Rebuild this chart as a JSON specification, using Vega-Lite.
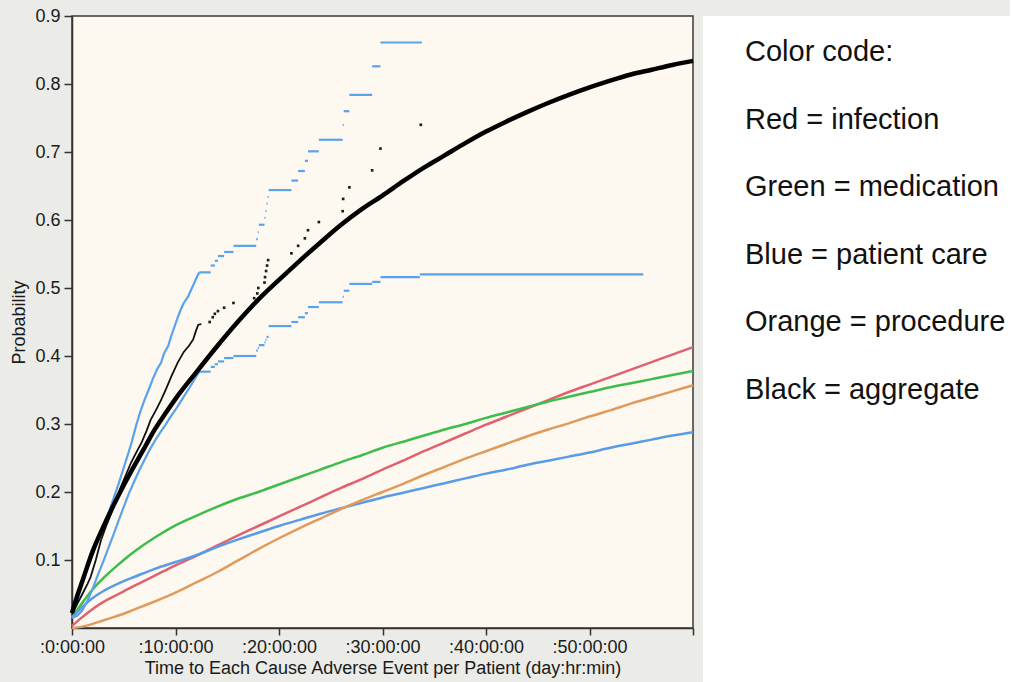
{
  "$schema": "https://vega.github.io/schema/vega-lite/v6.json",
  "background": "#ebebe8",
  "padding": {"left": 10, "top": 6, "right": 0, "bottom": 0},
  "spacing": 0,
  "config": {
    "font": "Liberation Sans",
    "view": {"stroke": null},
    "axis": {
      "grid": false,
      "labelFont": "Liberation Sans",
      "titleFont": "Liberation Sans",
      "labelFontSize": 18,
      "titleFontSize": 18,
      "titleFontWeight": "normal",
      "labelColor": "#1a1a1a",
      "titleColor": "#1a1a1a",
      "domainColor": "#333333",
      "domainWidth": 1.5,
      "tickColor": "#333333",
      "tickWidth": 1.5
    }
  },
  "datasets": {
    "curves": [
      {"series": "aggregate", "t": 0, "p": 0.022}, {"series": "aggregate", "t": 0.5, "p": 0.047}, {"series": "aggregate", "t": 1, "p": 0.069},
      {"series": "aggregate", "t": 2, "p": 0.113}, {"series": "aggregate", "t": 3, "p": 0.148}, {"series": "aggregate", "t": 4, "p": 0.18},
      {"series": "aggregate", "t": 5, "p": 0.21}, {"series": "aggregate", "t": 6, "p": 0.238}, {"series": "aggregate", "t": 7, "p": 0.265},
      {"series": "aggregate", "t": 8, "p": 0.292}, {"series": "aggregate", "t": 9, "p": 0.315}, {"series": "aggregate", "t": 10, "p": 0.337},
      {"series": "aggregate", "t": 12, "p": 0.376}, {"series": "aggregate", "t": 14, "p": 0.414}, {"series": "aggregate", "t": 16, "p": 0.45},
      {"series": "aggregate", "t": 18, "p": 0.483}, {"series": "aggregate", "t": 20, "p": 0.512}, {"series": "aggregate", "t": 22, "p": 0.54},
      {"series": "aggregate", "t": 24, "p": 0.567}, {"series": "aggregate", "t": 26, "p": 0.593}, {"series": "aggregate", "t": 28, "p": 0.616},
      {"series": "aggregate", "t": 30, "p": 0.636}, {"series": "aggregate", "t": 32, "p": 0.657}, {"series": "aggregate", "t": 34, "p": 0.677},
      {"series": "aggregate", "t": 36, "p": 0.695}, {"series": "aggregate", "t": 38, "p": 0.713}, {"series": "aggregate", "t": 40, "p": 0.73},
      {"series": "aggregate", "t": 42, "p": 0.745}, {"series": "aggregate", "t": 44, "p": 0.759}, {"series": "aggregate", "t": 46, "p": 0.772},
      {"series": "aggregate", "t": 48, "p": 0.784}, {"series": "aggregate", "t": 50, "p": 0.795}, {"series": "aggregate", "t": 52, "p": 0.805},
      {"series": "aggregate", "t": 54, "p": 0.814}, {"series": "aggregate", "t": 56, "p": 0.821}, {"series": "aggregate", "t": 58, "p": 0.828},
      {"series": "aggregate", "t": 60, "p": 0.834},

      {"series": "infection", "t": 0, "p": 0.003}, {"series": "infection", "t": 1, "p": 0.016}, {"series": "infection", "t": 2, "p": 0.028},
      {"series": "infection", "t": 3, "p": 0.038}, {"series": "infection", "t": 4, "p": 0.046}, {"series": "infection", "t": 5, "p": 0.054},
      {"series": "infection", "t": 6, "p": 0.062}, {"series": "infection", "t": 8, "p": 0.077}, {"series": "infection", "t": 10, "p": 0.092},
      {"series": "infection", "t": 12, "p": 0.106}, {"series": "infection", "t": 14, "p": 0.121}, {"series": "infection", "t": 16, "p": 0.136},
      {"series": "infection", "t": 18, "p": 0.15}, {"series": "infection", "t": 20, "p": 0.164}, {"series": "infection", "t": 22, "p": 0.178},
      {"series": "infection", "t": 24, "p": 0.192}, {"series": "infection", "t": 26, "p": 0.206}, {"series": "infection", "t": 28, "p": 0.219},
      {"series": "infection", "t": 30, "p": 0.233}, {"series": "infection", "t": 32, "p": 0.246}, {"series": "infection", "t": 34, "p": 0.26},
      {"series": "infection", "t": 36, "p": 0.273}, {"series": "infection", "t": 38, "p": 0.286}, {"series": "infection", "t": 40, "p": 0.299},
      {"series": "infection", "t": 42, "p": 0.311}, {"series": "infection", "t": 44, "p": 0.323}, {"series": "infection", "t": 46, "p": 0.335},
      {"series": "infection", "t": 48, "p": 0.347}, {"series": "infection", "t": 50, "p": 0.358}, {"series": "infection", "t": 52, "p": 0.369},
      {"series": "infection", "t": 54, "p": 0.38}, {"series": "infection", "t": 56, "p": 0.391}, {"series": "infection", "t": 58, "p": 0.402},
      {"series": "infection", "t": 60, "p": 0.413},

      {"series": "medication", "t": 0, "p": 0.015}, {"series": "medication", "t": 1, "p": 0.037}, {"series": "medication", "t": 2, "p": 0.057},
      {"series": "medication", "t": 3, "p": 0.073}, {"series": "medication", "t": 4, "p": 0.087}, {"series": "medication", "t": 5, "p": 0.1},
      {"series": "medication", "t": 6, "p": 0.112}, {"series": "medication", "t": 8, "p": 0.133}, {"series": "medication", "t": 10, "p": 0.151},
      {"series": "medication", "t": 12, "p": 0.165}, {"series": "medication", "t": 14, "p": 0.178}, {"series": "medication", "t": 16, "p": 0.19},
      {"series": "medication", "t": 18, "p": 0.2}, {"series": "medication", "t": 20, "p": 0.211}, {"series": "medication", "t": 22, "p": 0.222},
      {"series": "medication", "t": 24, "p": 0.233}, {"series": "medication", "t": 26, "p": 0.244}, {"series": "medication", "t": 28, "p": 0.254},
      {"series": "medication", "t": 30, "p": 0.265}, {"series": "medication", "t": 32, "p": 0.274}, {"series": "medication", "t": 34, "p": 0.283},
      {"series": "medication", "t": 36, "p": 0.292}, {"series": "medication", "t": 38, "p": 0.3}, {"series": "medication", "t": 40, "p": 0.309},
      {"series": "medication", "t": 42, "p": 0.317}, {"series": "medication", "t": 44, "p": 0.325}, {"series": "medication", "t": 46, "p": 0.333},
      {"series": "medication", "t": 48, "p": 0.34}, {"series": "medication", "t": 50, "p": 0.347}, {"series": "medication", "t": 52, "p": 0.354},
      {"series": "medication", "t": 54, "p": 0.36}, {"series": "medication", "t": 56, "p": 0.366}, {"series": "medication", "t": 58, "p": 0.372},
      {"series": "medication", "t": 60, "p": 0.378},

      {"series": "patient care", "t": 0, "p": 0.015}, {"series": "patient care", "t": 1, "p": 0.031}, {"series": "patient care", "t": 2, "p": 0.044},
      {"series": "patient care", "t": 3, "p": 0.054}, {"series": "patient care", "t": 4, "p": 0.062}, {"series": "patient care", "t": 5, "p": 0.069},
      {"series": "patient care", "t": 6, "p": 0.075}, {"series": "patient care", "t": 8, "p": 0.087}, {"series": "patient care", "t": 10, "p": 0.097},
      {"series": "patient care", "t": 12, "p": 0.107}, {"series": "patient care", "t": 14, "p": 0.119}, {"series": "patient care", "t": 16, "p": 0.13},
      {"series": "patient care", "t": 18, "p": 0.14}, {"series": "patient care", "t": 20, "p": 0.15}, {"series": "patient care", "t": 22, "p": 0.159},
      {"series": "patient care", "t": 24, "p": 0.168}, {"series": "patient care", "t": 26, "p": 0.176}, {"series": "patient care", "t": 28, "p": 0.184},
      {"series": "patient care", "t": 30, "p": 0.192}, {"series": "patient care", "t": 32, "p": 0.199}, {"series": "patient care", "t": 34, "p": 0.206},
      {"series": "patient care", "t": 36, "p": 0.213}, {"series": "patient care", "t": 38, "p": 0.22}, {"series": "patient care", "t": 40, "p": 0.227},
      {"series": "patient care", "t": 42, "p": 0.233}, {"series": "patient care", "t": 44, "p": 0.24}, {"series": "patient care", "t": 46, "p": 0.246},
      {"series": "patient care", "t": 48, "p": 0.252}, {"series": "patient care", "t": 50, "p": 0.258}, {"series": "patient care", "t": 52, "p": 0.265},
      {"series": "patient care", "t": 54, "p": 0.271}, {"series": "patient care", "t": 56, "p": 0.277}, {"series": "patient care", "t": 58, "p": 0.283},
      {"series": "patient care", "t": 60, "p": 0.288},

      {"series": "procedure", "t": 0, "p": 0.0}, {"series": "procedure", "t": 1, "p": 0.002}, {"series": "procedure", "t": 2, "p": 0.006},
      {"series": "procedure", "t": 3, "p": 0.011}, {"series": "procedure", "t": 4, "p": 0.016}, {"series": "procedure", "t": 5, "p": 0.021},
      {"series": "procedure", "t": 6, "p": 0.027}, {"series": "procedure", "t": 8, "p": 0.039}, {"series": "procedure", "t": 10, "p": 0.052},
      {"series": "procedure", "t": 12, "p": 0.067}, {"series": "procedure", "t": 14, "p": 0.082}, {"series": "procedure", "t": 16, "p": 0.099},
      {"series": "procedure", "t": 18, "p": 0.116}, {"series": "procedure", "t": 20, "p": 0.132}, {"series": "procedure", "t": 22, "p": 0.147},
      {"series": "procedure", "t": 24, "p": 0.161}, {"series": "procedure", "t": 26, "p": 0.175}, {"series": "procedure", "t": 28, "p": 0.188},
      {"series": "procedure", "t": 30, "p": 0.2}, {"series": "procedure", "t": 32, "p": 0.212}, {"series": "procedure", "t": 34, "p": 0.225},
      {"series": "procedure", "t": 36, "p": 0.237}, {"series": "procedure", "t": 38, "p": 0.249}, {"series": "procedure", "t": 40, "p": 0.26},
      {"series": "procedure", "t": 42, "p": 0.271}, {"series": "procedure", "t": 44, "p": 0.282}, {"series": "procedure", "t": 46, "p": 0.292},
      {"series": "procedure", "t": 48, "p": 0.301}, {"series": "procedure", "t": 50, "p": 0.311}, {"series": "procedure", "t": 52, "p": 0.32},
      {"series": "procedure", "t": 54, "p": 0.33}, {"series": "procedure", "t": 56, "p": 0.339}, {"series": "procedure", "t": 58, "p": 0.348},
      {"series": "procedure", "t": 60, "p": 0.357}
    ],
    "bandEarly": [
      {"band": "upper", "t": 0, "p": 0.02}, {"band": "upper", "t": 0.5, "p": 0.04}, {"band": "upper", "t": 1.0, "p": 0.065},
      {"band": "upper", "t": 1.5, "p": 0.088}, {"band": "upper", "t": 2.0, "p": 0.108}, {"band": "upper", "t": 2.5, "p": 0.128},
      {"band": "upper", "t": 3.0, "p": 0.148}, {"band": "upper", "t": 3.5, "p": 0.168}, {"band": "upper", "t": 4.0, "p": 0.19},
      {"band": "upper", "t": 4.5, "p": 0.212}, {"band": "upper", "t": 5.0, "p": 0.236}, {"band": "upper", "t": 5.4, "p": 0.255},
      {"band": "upper", "t": 5.8, "p": 0.275}, {"band": "upper", "t": 6.2, "p": 0.298}, {"band": "upper", "t": 6.6, "p": 0.318},
      {"band": "upper", "t": 7.0, "p": 0.335}, {"band": "upper", "t": 7.4, "p": 0.35}, {"band": "upper", "t": 7.8, "p": 0.366},
      {"band": "upper", "t": 8.2, "p": 0.38}, {"band": "upper", "t": 8.6, "p": 0.39}, {"band": "upper", "t": 8.9, "p": 0.404},
      {"band": "upper", "t": 9.3, "p": 0.415}, {"band": "upper", "t": 9.6, "p": 0.43}, {"band": "upper", "t": 9.9, "p": 0.443},
      {"band": "upper", "t": 10.2, "p": 0.456}, {"band": "upper", "t": 10.5, "p": 0.468}, {"band": "upper", "t": 10.8, "p": 0.478},
      {"band": "upper", "t": 11.2, "p": 0.487}, {"band": "upper", "t": 11.5, "p": 0.497}, {"band": "upper", "t": 11.8, "p": 0.507},
      {"band": "upper", "t": 12.0, "p": 0.514}, {"band": "upper", "t": 12.3, "p": 0.523},
      {"band": "lower", "t": 0, "p": 0.015}, {"band": "lower", "t": 0.5, "p": 0.018}, {"band": "lower", "t": 1.0, "p": 0.026},
      {"band": "lower", "t": 1.5, "p": 0.04}, {"band": "lower", "t": 2.0, "p": 0.058}, {"band": "lower", "t": 2.5, "p": 0.078},
      {"band": "lower", "t": 3.0, "p": 0.097}, {"band": "lower", "t": 3.5, "p": 0.117}, {"band": "lower", "t": 4.0, "p": 0.137},
      {"band": "lower", "t": 4.5, "p": 0.158}, {"band": "lower", "t": 5.0, "p": 0.178}, {"band": "lower", "t": 5.5, "p": 0.198},
      {"band": "lower", "t": 6.0, "p": 0.215}, {"band": "lower", "t": 6.5, "p": 0.232}, {"band": "lower", "t": 7.0, "p": 0.247},
      {"band": "lower", "t": 7.5, "p": 0.262}, {"band": "lower", "t": 8.0, "p": 0.275}, {"band": "lower", "t": 8.5, "p": 0.287},
      {"band": "lower", "t": 9.0, "p": 0.298}, {"band": "lower", "t": 9.5, "p": 0.31}, {"band": "lower", "t": 10.0, "p": 0.321},
      {"band": "lower", "t": 10.5, "p": 0.333}, {"band": "lower", "t": 11.0, "p": 0.345}, {"band": "lower", "t": 11.5, "p": 0.357},
      {"band": "lower", "t": 12.0, "p": 0.37}, {"band": "lower", "t": 12.3, "p": 0.377}
    ],
    "bandSteps": [
      {"band": "upper", "t": 12.3, "t1": 13.4, "p": 0.523}, {"band": "upper", "t": 13.4, "t1": 13.8, "p": 0.533},
      {"band": "upper", "t": 13.8, "t1": 14.1, "p": 0.54}, {"band": "upper", "t": 14.1, "t1": 14.7, "p": 0.547},
      {"band": "upper", "t": 14.7, "t1": 15.6, "p": 0.553}, {"band": "upper", "t": 15.6, "t1": 17.8, "p": 0.562},
      {"band": "upper", "t": 17.8, "t1": 17.95, "p": 0.572}, {"band": "upper", "t": 17.95, "t1": 18.05, "p": 0.582},
      {"band": "upper", "t": 18.05, "t1": 18.6, "p": 0.593}, {"band": "upper", "t": 18.6, "t1": 18.7, "p": 0.603},
      {"band": "upper", "t": 18.7, "t1": 18.8, "p": 0.613}, {"band": "upper", "t": 18.8, "t1": 18.9, "p": 0.624},
      {"band": "upper", "t": 18.9, "t1": 19.0, "p": 0.634}, {"band": "upper", "t": 19.0, "t1": 21.2, "p": 0.644},
      {"band": "upper", "t": 21.2, "t1": 21.85, "p": 0.658}, {"band": "upper", "t": 21.85, "t1": 22.5, "p": 0.672},
      {"band": "upper", "t": 22.5, "t1": 22.8, "p": 0.687}, {"band": "upper", "t": 22.8, "t1": 23.85, "p": 0.701},
      {"band": "upper", "t": 23.85, "t1": 26.15, "p": 0.718}, {"band": "upper", "t": 26.15, "t1": 26.25, "p": 0.74},
      {"band": "upper", "t": 26.25, "t1": 26.8, "p": 0.76}, {"band": "upper", "t": 26.8, "t1": 29.0, "p": 0.784},
      {"band": "upper", "t": 29.0, "t1": 29.8, "p": 0.826}, {"band": "upper", "t": 29.8, "t1": 33.8, "p": 0.861},
      {"band": "lower", "t": 12.3, "t1": 13.4, "p": 0.377}, {"band": "lower", "t": 13.4, "t1": 13.8, "p": 0.384},
      {"band": "lower", "t": 13.8, "t1": 14.1, "p": 0.388}, {"band": "lower", "t": 14.1, "t1": 14.7, "p": 0.392},
      {"band": "lower", "t": 14.7, "t1": 15.6, "p": 0.397}, {"band": "lower", "t": 15.6, "t1": 17.8, "p": 0.4},
      {"band": "lower", "t": 17.8, "t1": 17.95, "p": 0.408}, {"band": "lower", "t": 17.95, "t1": 18.05, "p": 0.412},
      {"band": "lower", "t": 18.05, "t1": 18.6, "p": 0.416}, {"band": "lower", "t": 18.6, "t1": 18.7, "p": 0.42},
      {"band": "lower", "t": 18.7, "t1": 18.8, "p": 0.424}, {"band": "lower", "t": 18.8, "t1": 19.0, "p": 0.428},
      {"band": "lower", "t": 19.0, "t1": 21.2, "p": 0.444}, {"band": "lower", "t": 21.2, "t1": 21.85, "p": 0.45},
      {"band": "lower", "t": 21.85, "t1": 22.5, "p": 0.457}, {"band": "lower", "t": 22.5, "t1": 22.8, "p": 0.463},
      {"band": "lower", "t": 22.8, "t1": 23.85, "p": 0.472}, {"band": "lower", "t": 23.85, "t1": 26.15, "p": 0.479},
      {"band": "lower", "t": 26.15, "t1": 26.25, "p": 0.487}, {"band": "lower", "t": 26.25, "t1": 26.8, "p": 0.496},
      {"band": "lower", "t": 26.8, "t1": 29.0, "p": 0.506}, {"band": "lower", "t": 29.0, "t1": 29.8, "p": 0.509},
      {"band": "lower", "t": 29.8, "t1": 33.6, "p": 0.516}, {"band": "lower", "t": 33.6, "t1": 55.2, "p": 0.52}
    ],
    "kmEarly": [
      {"t": 0, "p": 0.02}, {"t": 0.5, "p": 0.035}, {"t": 1.0, "p": 0.05}, {"t": 1.5, "p": 0.065}, {"t": 1.8, "p": 0.075},
      {"t": 2.3, "p": 0.1}, {"t": 2.8, "p": 0.129}, {"t": 3.3, "p": 0.15}, {"t": 3.8, "p": 0.169}, {"t": 4.3, "p": 0.19},
      {"t": 4.7, "p": 0.207}, {"t": 5.2, "p": 0.225}, {"t": 5.7, "p": 0.243}, {"t": 6.2, "p": 0.258}, {"t": 6.7, "p": 0.272},
      {"t": 7.2, "p": 0.29}, {"t": 7.6, "p": 0.306}, {"t": 8.1, "p": 0.32}, {"t": 8.6, "p": 0.335}, {"t": 9.1, "p": 0.352},
      {"t": 9.6, "p": 0.37}, {"t": 10.2, "p": 0.39}, {"t": 10.8, "p": 0.406}, {"t": 11.3, "p": 0.415}, {"t": 11.7, "p": 0.424},
      {"t": 12.0, "p": 0.438}, {"t": 12.2, "p": 0.446}, {"t": 12.5, "p": 0.447}
    ],
    "kmDots": [
      {"t": 13.3, "p": 0.45}, {"t": 13.6, "p": 0.457}, {"t": 13.8, "p": 0.462}, {"t": 14.1, "p": 0.466}, {"t": 14.7, "p": 0.471},
      {"t": 15.6, "p": 0.478}, {"t": 17.6, "p": 0.485}, {"t": 17.9, "p": 0.492}, {"t": 18.0, "p": 0.5}, {"t": 18.6, "p": 0.508},
      {"t": 18.65, "p": 0.516}, {"t": 18.75, "p": 0.525}, {"t": 18.85, "p": 0.533}, {"t": 18.95, "p": 0.541}, {"t": 21.2, "p": 0.551},
      {"t": 21.85, "p": 0.562}, {"t": 22.5, "p": 0.573}, {"t": 22.8, "p": 0.585}, {"t": 23.85, "p": 0.597}, {"t": 26.15, "p": 0.613},
      {"t": 26.2, "p": 0.631}, {"t": 26.8, "p": 0.648}, {"t": 29.0, "p": 0.673}, {"t": 29.8, "p": 0.705}, {"t": 33.7, "p": 0.74}
    ],
    "legendText": [
      {"order": 0, "label": "Color code:"},
      {"order": 1, "label": "Red = infection"},
      {"order": 2, "label": "Green = medication"},
      {"order": 3, "label": "Blue = patient care"},
      {"order": 4, "label": "Orange = procedure"},
      {"order": 5, "label": "Black = aggregate"}
    ]
  },
  "hconcat": [
    {
      "width": 621,
      "height": 612,
      "view": {"fill": "#fef9f0", "stroke": "#3a3a3a", "strokeWidth": 1.5},
      "encoding": {
        "x": {
          "field": "t", "type": "quantitative",
          "scale": {"domain": [0, 60], "nice": false, "zero": false},
          "title": "Time to Each Cause Adverse Event per Patient (day:hr:min)",
          "axis": {
            "values": [0, 10, 20, 30, 40, 50, 60],
            "labelExpr": "datum.value >= 60 ? '' : ':' + datum.value + ':00:00'",
            "tickSize": 7, "labelPadding": 3, "titlePadding": 3,
            "labelFlush": false, "labelOverlap": false
          }
        },
        "y": {
          "field": "p", "type": "quantitative",
          "scale": {"domain": [0, 0.9], "nice": false},
          "title": "Probability",
          "axis": {
            "values": [0.1, 0.2, 0.3, 0.4, 0.5, 0.6, 0.7, 0.8, 0.9],
            "format": ".1f",
            "tickSize": 8, "labelPadding": 4, "titlePadding": 6,
            "labelFlush": false, "labelOverlap": false
          }
        }
      },
      "layer": [
        {
          "data": {"name": "curves"},
          "transform": [{"filter": "datum.series != 'aggregate'"}],
          "mark": {"type": "line", "strokeWidth": 2.5, "interpolate": "monotone"},
          "encoding": {
            "color": {
              "field": "series", "type": "nominal",
              "scale": {"domain": ["infection", "medication", "patient care", "procedure"], "range": ["#e0616f", "#3dbd4c", "#5a9be8", "#e09a5c"]},
              "legend": null
            }
          }
        },
        {
          "data": {"name": "bandEarly"},
          "mark": {"type": "line", "color": "#5aa2ee", "strokeWidth": 2.2},
          "encoding": {"detail": {"field": "band", "type": "nominal"}}
        },
        {
          "data": {"name": "bandSteps"},
          "mark": {"type": "rule", "color": "#5aa2ee", "strokeWidth": 2.2},
          "encoding": {"x2": {"field": "t1"}}
        },
        {
          "data": {"name": "kmEarly"},
          "mark": {"type": "line", "color": "#111111", "strokeWidth": 1.8}
        },
        {
          "data": {"name": "kmDots"},
          "mark": {"type": "square", "size": 7, "color": "#1a1a1a", "opacity": 1}
        },
        {
          "data": {"name": "curves"},
          "transform": [{"filter": "datum.series == 'aggregate'"}],
          "mark": {"type": "line", "strokeWidth": 4.5, "color": "#000000", "interpolate": "monotone"}
        }
      ]
    },
    {
      "width": 307,
      "height": 666,
      "view": {"fill": "#ffffff", "stroke": null},
      "data": {"name": "legendText"},
      "mark": {"type": "text", "align": "left", "baseline": "middle", "fontSize": 29, "font": "Liberation Sans", "color": "#111111"},
      "encoding": {
        "y": {"field": "order", "type": "ordinal", "scale": {"type": "point", "range": [36, 374], "padding": 0}, "axis": null},
        "x": {"value": 42},
        "text": {"field": "label", "type": "nominal"}
      }
    }
  ]
}
